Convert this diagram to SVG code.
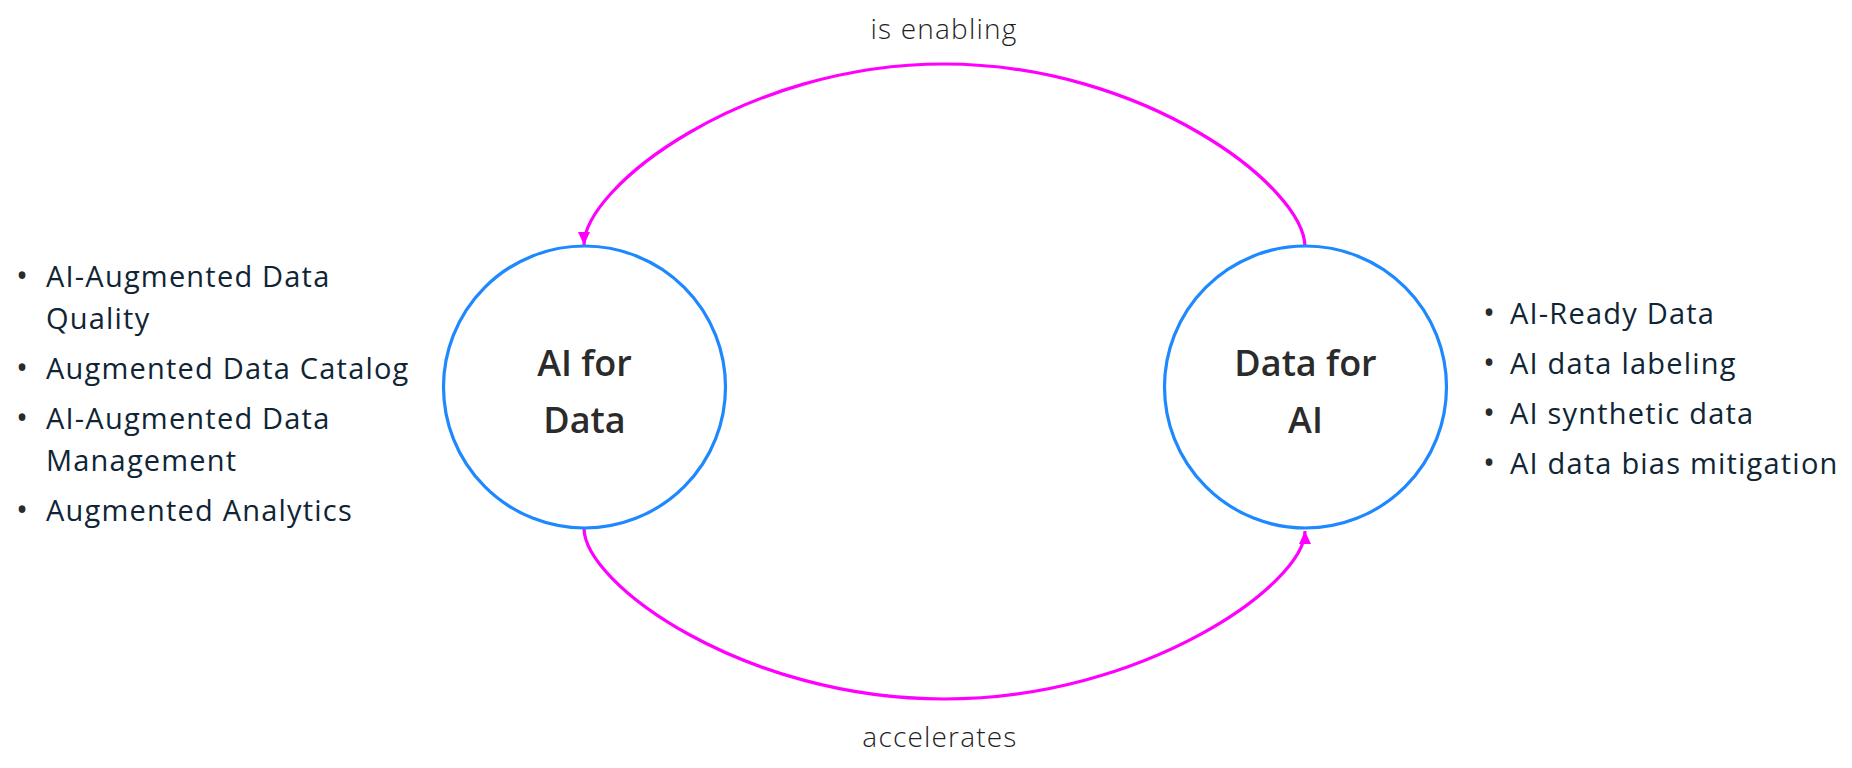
<svg xmlns="http://www.w3.org/2000/svg" width="1852" height="768" viewBox="0 0 1852 768">
  <style>
    .node { fill: #ffffff; stroke: #1E88FF; stroke-width: 3.2; }
    .title { font-family: "Open Sans", "Noto Sans", sans-serif; font-weight: 600; font-size: 36px; fill: #2b2b2b; text-anchor: middle; }
    .item { font-family: "Open Sans", "Noto Sans", sans-serif; font-size: 29px; letter-spacing: 1.2px; fill: #0f2535; }
    .bullet { font-family: "Open Sans", "Noto Sans", sans-serif; font-size: 32px; fill: #2a2a2a; text-anchor: middle; }
    .label { font-family: "Open Sans", "Noto Sans", sans-serif; font-weight: 300; font-size: 28px; letter-spacing: 1.2px; fill: #1f1f1f; text-anchor: middle; }
    .edge { fill: none; stroke: #FF00FF; stroke-width: 3.2; }
  </style>
  <defs>
    <marker id="arrow" markerUnits="userSpaceOnUse" markerWidth="13" markerHeight="12" refX="13" refY="6" orient="auto">
      <path d="M0,0 L13,6 L0,12 z" fill="#FF00FF"/>
    </marker>
  </defs>
  <rect width="1852" height="768" fill="#ffffff"/>

  <g id="connectors">
    <path class="edge" d="M1305,247 C1305,187 1144,64 944,64 C744,64 584,187 584,245" marker-end="url(#arrow)"/>
    <text class="label" x="944" y="39">is enabling</text>
    <path class="edge" d="M584,528 C584,584 744,699 944,699 C1144,699 1305,584 1305,531" marker-end="url(#arrow)"/>
    <text class="label" x="940" y="747">accelerates</text>
  </g>

  <g id="node-ai-for-data">
    <circle class="node" cx="584.5" cy="387" r="141"/>
    <text class="title" x="584.5" y="376">AI for</text>
    <text class="title" x="584.5" y="433">Data</text>
  </g>

  <g id="node-data-for-ai">
    <circle class="node" cx="1305.5" cy="387" r="141"/>
    <text class="title" x="1305.5" y="376">Data for</text>
    <text class="title" x="1305.5" y="433">AI</text>
  </g>

  <g id="list-ai-for-data">
    <text class="bullet" x="22" y="287">•</text>
    <text class="item" x="46" y="287">AI-Augmented Data</text>
    <text class="item" x="46" y="329">Quality</text>
    <text class="bullet" x="22" y="379">•</text>
    <text class="item" x="46" y="379">Augmented Data Catalog</text>
    <text class="bullet" x="22" y="429">•</text>
    <text class="item" x="46" y="429">AI-Augmented Data</text>
    <text class="item" x="46" y="471">Management</text>
    <text class="bullet" x="22" y="521">•</text>
    <text class="item" x="46" y="521">Augmented Analytics</text>
  </g>

  <g id="list-data-for-ai">
    <text class="bullet" x="1489" y="324">•</text>
    <text class="item" x="1510" y="324">AI-Ready Data</text>
    <text class="bullet" x="1489" y="374">•</text>
    <text class="item" x="1510" y="374">AI data labeling</text>
    <text class="bullet" x="1489" y="424">•</text>
    <text class="item" x="1510" y="424">AI synthetic data</text>
    <text class="bullet" x="1489" y="474">•</text>
    <text class="item" x="1510" y="474">AI data bias mitigation</text>
  </g>
</svg>
